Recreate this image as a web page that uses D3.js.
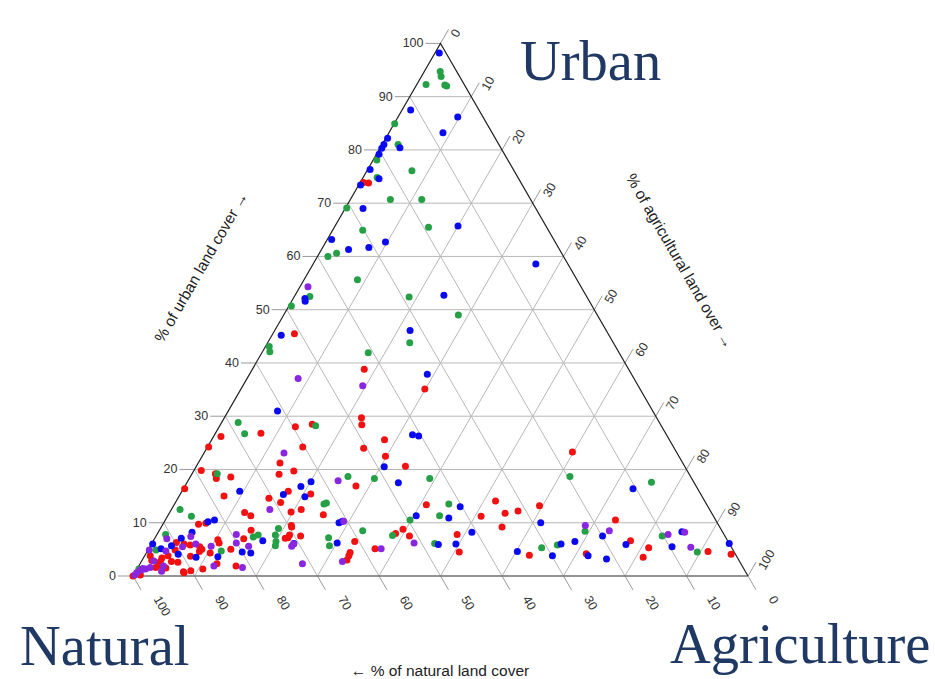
<!DOCTYPE html>
<html>
<head>
<meta charset="utf-8">
<script src="https://cdn.jsdelivr.net/npm/d3@7"></script>
<style>
  body { margin: 0; background: #fff; }
  svg { display: block; }
</style>
</head>
<body>
<script>
// Tick values shared by all three ternary axes
const ticks = d3.range(0, 101, 10);

// Each site: [urban %, agricultural %]; natural % is the remainder to 100
const redSites = [
  [73.9,0.5],[73.8,1.4],[45.5,3.5],[38.8,18.2],[35.1,29.9],[26.8,7.4],[28.0,12.4],[28.5,14.9],[29.7,22.3],[28.4,23.0],
  [26.2,1.2],[24.2,0.2],[24.2,15.5],[25.6,28.1],[24.0,25.5],[22.5,29.8],[21.2,13.3],[20.6,34.0],[19.8,1.2],[19.2,3.8],
  [18.3,4.4],[19.1,14.2],[19.7,16.3],[18.6,6.6],[16.4,0.2],[15.9,17.3],[15.4,21.2],[16.9,27.8],[15.0,7.3],[14.6,14.8],
  [13.8,17.1],[13.4,41.0],[12.5,21.1],[12.0,19.7],[11.5,25.2],[11.9,12.2],[11.3,13.5],[9.9,6.9],[9.7,5.8],[9.5,21.0],
  [9.2,21.2],[8.6,14.9],[8.8,39.5],[8.0,38.7],[7.5,41.2],[7.5,23.5],[7.7,21.6],[7.1,21.2],[7.2,21.6],[7.0,14.5],
  [6.5,32.8],[5.1,36.8],[5.0,13.4],[6.8,10.4],[6.2,10.9],[4.3,10.4],[2.3,12.5],[1.3,10.7],[3.7,7.5],[4.6,8.5],
  [5.0,8.7],[5.5,8.1],[5.8,6.4],[6.3,3.9],[6.0,5.3],[1.9,15.8],[1.0,8.9],[0.6,8.0],[3.0,33.3],[4.4,33.1],
  [3.8,33.2],[4.9,4.4],[3.8,3.8],[3.8,0.9],[2.9,1.6],[3.4,3.0],[2.7,3.1],[2.7,4.9],[2.6,6.0],[2.0,3.2],
  [1.6,2.9],[0,0],[0.2,1.1],[1.5,4.6],[0.8,7.8],[23.3,59.8],[14.1,51.9],[11.2,51.0],[11.8,54.6],[12.2,56.5],
  [13.2,59.5],[9.2,55.4],[7.8,48.8],[4.5,50.8],[3.9,62.5],[10.5,73.2],[4.2,71.6],[6.6,77.6],[5.3,81.2],[3.5,81.2],
  [4.6,91.2],[4.1,95.2]
];

const greenSites = [
  [94.7,2.6],[93.8,3.2],[92.3,1.5],[92.2,4.6],[92.0,5.0],[84.9,0.1],[81.0,2.6],[78.1,0.6],[76.1,7.3],[74.8,2.3],
  [70.7,6.5],[70.7,11.6],[69.1,0.2],[65.5,15.3],[64.9,4.9],[60.6,2.8],[60.0,1.7],[55.6,8.7],[52.5,2.5],[50.7,0.4],
  [52.4,18.7],[49.0,28.4],[43.1,0.6],[42.1,1.2],[41.9,17.3],[43.8,23.1],[28.8,2.7],[26.7,4.8],[28.2,15.6],[19.2,4.1],
  [18.7,25.6],[18.3,30.1],[18.3,39.1],[13.5,24.3],[13.7,24.6],[13.5,44.6],[12.5,1.4],[11.2,3.9],[11.3,44.2],[10.5,39.8],
  [8.9,19.2],[8.5,33.1],[7.6,38.4],[7.2,28.2],[5.7,29.1],[7.7,16.5],[7.3,15.9],[7.7,19.3],[6.5,20.0],[5.7,20.3],
  [6.1,46.0],[4.7,12.0],[7.8,1.4],[4.9,1.3],[1.3,0.3],[18.7,61.7],[17.6,75.5],[5.3,63.8],[5.8,66.1],[8.4,69.3],
  [7.5,82.3],[4.5,89.5]
];

const blueSites = [
  [98.2,0.7],[87.5,1.4],[86.2,9.7],[83.2,8.8],[82.2,0.3],[81.0,0.3],[80.3,0.3],[79.2,0.4],[80.4,3.2],[76.3,0.4],
  [73.4,0.3],[74.6,2.7],[69.0,2.9],[65.7,20.0],[63.2,0.7],[62.7,9.7],[61.3,4.4],[61.7,7.5],[52.1,1.9],[51.6,2.2],
  [52.7,24.2],[58.6,36.2],[45.2,1.5],[46.1,22.0],[37.9,28.9],[31.0,8.0],[26.5,32.2],[26.3,33.3],[20.5,30.6],[17.5,34.4],
  [15.9,9.4],[17.7,20.1],[16.8,18.9],[15.3,16.8],[14.9,20.5],[11.3,40.4],[10.9,45.9],[10.2,7.1],[10.5,8.0],[10.0,28.5],
  [10.3,28.9],[6.6,17.8],[6.2,30.1],[6.1,23.1],[5.9,46.7],[4.5,15.5],[4.3,17.0],[3.6,12.0],[3.5,8.5],[8.2,5.5],
  [7.1,4.3],[6.0,0.2],[5.7,3.4],[5.1,2.0],[4.1,5.3],[1.2,0.8],[13.0,46.7],[16.4,73.1],[8.2,51.0],[10.0,61.3],
  [6.0,49.5],[4.6,60.2],[3.8,66.3],[6.0,66.6],[6.5,68.6],[3.8,72.1],[7.5,72.6],[3.2,75.4],[5.9,77.2],[8.3,85.1],
  [5.5,84.9],[6.1,93.9]
];

const purpleSites = [
  [54.3,1.3],[37.1,8.3],[35.7,19.5],[23.1,13.0],[17.9,24.4],[12.5,16.0],[10.3,29.1],[7.8,12.9],[6.0,23.1],[5.6,23.0],
  [6.2,42.6],[5.1,37.8],[6.2,13.7],[5.6,16.0],[5.6,9.9],[1.9,12.2],[6.0,7.2],[7.4,5.7],[5.5,5.3],[1.6,17.0],
  [2.7,32.7],[2.3,26.4],[7.0,2.0],[4.9,0.2],[4.7,3.0],[2.8,2.0],[1.9,4.0],[1.6,2.0],[1.3,1.4],[1.4,0.9],
  [1.1,0.6],[0.6,0.3],[0.2,0.2],[0.9,4.2],[9.5,68.8],[8.5,73.2],[7.8,83.1],[8.2,85.6],[5.4,88.0]
];

const seriesList = [
  { sites: redSites,    color: "#f21010" },
  { sites: greenSites,  color: "#26a046" },
  { sites: blueSites,   color: "#0a0af0" },
  { sites: purpleSites, color: "#8a26e0" }
];

const W = 935, H = 679;
const svg = d3.select("body").append("svg").attr("width", W).attr("height", H);

// Triangle geometry: bottom-left corner (100% natural) and side length
const left = 133, base = 576, side = 615;
const sx = d3.scaleLinear().domain([0, 100]).range([0, side]);
const sy = d3.scaleLinear().domain([0, 100]).range([base, base - side * Math.sqrt(3) / 2]);

// urban u, agricultural a (percent) -> screen position
function pos(u, a) { return [left + sx(a) + sx(u) / 2, sy(u)]; }

const c60 = 0.5, s60 = Math.sqrt(3) / 2;
const tickLen = 16;
const gridColor = "#b8b8b8";
const tickColor = "#999";
const labelFont = "Liberation Sans, Arial, sans-serif";
const labelSize = 12.5;

const grid = svg.append("g");
const inner = ticks.filter(v => v > 0 && v < 100);

// Lines of constant urban (horizontal)
inner.forEach(v => {
  const p = pos(v, 0), q = pos(v, 100 - v);
  grid.append("line").attr("x1", p[0]).attr("y1", p[1]).attr("x2", q[0]).attr("y2", q[1])
    .attr("stroke", gridColor).attr("stroke-width", 1);
});
// Lines of constant agriculture (parallel to the left side)
inner.forEach(v => {
  const p = pos(0, v), q = pos(100 - v, v);
  grid.append("line").attr("x1", p[0]).attr("y1", p[1]).attr("x2", q[0]).attr("y2", q[1])
    .attr("stroke", gridColor).attr("stroke-width", 1);
});
// Lines of constant natural (parallel to the right side)
inner.forEach(v => {
  const p = pos(0, 100 - v), q = pos(100 - v, 0);
  grid.append("line").attr("x1", p[0]).attr("y1", p[1]).attr("x2", q[0]).attr("y2", q[1])
    .attr("stroke", gridColor).attr("stroke-width", 1);
});

// Ticks and labels
const axes = svg.append("g");
ticks.forEach(v => {
  // urban: left side, horizontal ticks
  const pu = pos(v, 0);
  axes.append("line").attr("x1", pu[0] - 15).attr("y1", pu[1]).attr("x2", pu[0]).attr("y2", pu[1])
    .attr("stroke", tickColor).attr("stroke-width", 1);
  axes.append("text").attr("x", pu[0] - 17).attr("y", pu[1])
    .attr("text-anchor", "end").attr("dominant-baseline", "central")
    .attr("font-family", labelFont).attr("font-size", labelSize).attr("fill", "#333")
    .text(v);

  // agriculture: right side, ticks pointing up-right
  const pa = pos(100 - v, v);
  const ea = [pa[0] + tickLen * c60, pa[1] - tickLen * s60];
  axes.append("line").attr("x1", pa[0]).attr("y1", pa[1]).attr("x2", ea[0]).attr("y2", ea[1])
    .attr("stroke", tickColor).attr("stroke-width", 1);
  axes.append("text").attr("transform", `translate(${ea[0]},${ea[1]}) rotate(-60)`)
    .attr("x", -3).attr("y", 8).attr("dominant-baseline", "central")
    .attr("font-family", labelFont).attr("font-size", labelSize).attr("fill", "#333")
    .text(v);

  // natural: bottom side, ticks pointing down-right
  const pn = pos(0, 100 - v);
  const en = [pn[0] + tickLen * c60, pn[1] + tickLen * s60];
  axes.append("line").attr("x1", pn[0]).attr("y1", pn[1]).attr("x2", en[0]).attr("y2", en[1])
    .attr("stroke", tickColor).attr("stroke-width", 1);
  axes.append("text").attr("transform", `translate(${en[0]},${en[1]}) rotate(60)`)
    .attr("x", 14).attr("y", -10).attr("dominant-baseline", "central")
    .attr("font-family", labelFont).attr("font-size", labelSize).attr("fill", "#333")
    .text(v);
});

// Triangle outline
const A = pos(100, 0), L = pos(0, 0), R = pos(0, 100);
svg.append("line").attr("x1", L[0]).attr("y1", L[1]).attr("x2", R[0]).attr("y2", R[1])
  .attr("stroke", "#707070").attr("stroke-width", 1.6);
svg.append("path").attr("d", `M${L[0]},${L[1]}L${A[0]},${A[1]}L${R[0]},${R[1]}`)
  .attr("fill", "none").attr("stroke", "#222").attr("stroke-width", 1.2);

// Sites
const dots = svg.append("g");
seriesList.forEach(s => {
  dots.selectAll(null).data(s.sites).enter().append("circle")
    .attr("cx", d => pos(d[0], d[1])[0])
    .attr("cy", d => pos(d[0], d[1])[1])
    .attr("r", 3.5)
    .attr("fill", s.color);
});

// Axis titles
const titleFont = "Liberation Sans, Arial, sans-serif";
const titleSize = 15.5;
svg.append("text").attr("transform", "translate(201,267) rotate(-60)")
  .attr("text-anchor", "middle").attr("dominant-baseline", "central")
  .attr("font-family", titleFont).attr("font-size", titleSize).attr("fill", "#222")
  .text("% of urban land cover \u2192");
svg.append("text").attr("transform", "translate(680,261) rotate(60)")
  .attr("text-anchor", "middle").attr("dominant-baseline", "central")
  .attr("font-family", titleFont).attr("font-size", titleSize).attr("fill", "#222")
  .text("% of agricultural land over \u2192");
svg.append("text").attr("x", 440).attr("y", 676)
  .attr("text-anchor", "middle")
  .attr("font-family", titleFont).attr("font-size", titleSize).attr("fill", "#222")
  .text("\u2190 % of natural land cover");

// Corner names
const cornerFont = "Liberation Serif, Times New Roman, serif";
const corners = [
  { text: "Urban", x: 520, y: 80 },
  { text: "Natural", x: 20, y: 665 },
  { text: "Agriculture", x: 670, y: 663 }
];
svg.selectAll(null).data(corners).enter().append("text")
  .attr("x", d => d.x).attr("y", d => d.y)
  .attr("font-family", cornerFont).attr("font-size", 56.5).attr("fill", "#1f3864")
  .text(d => d.text);
</script>
</body>
</html>
